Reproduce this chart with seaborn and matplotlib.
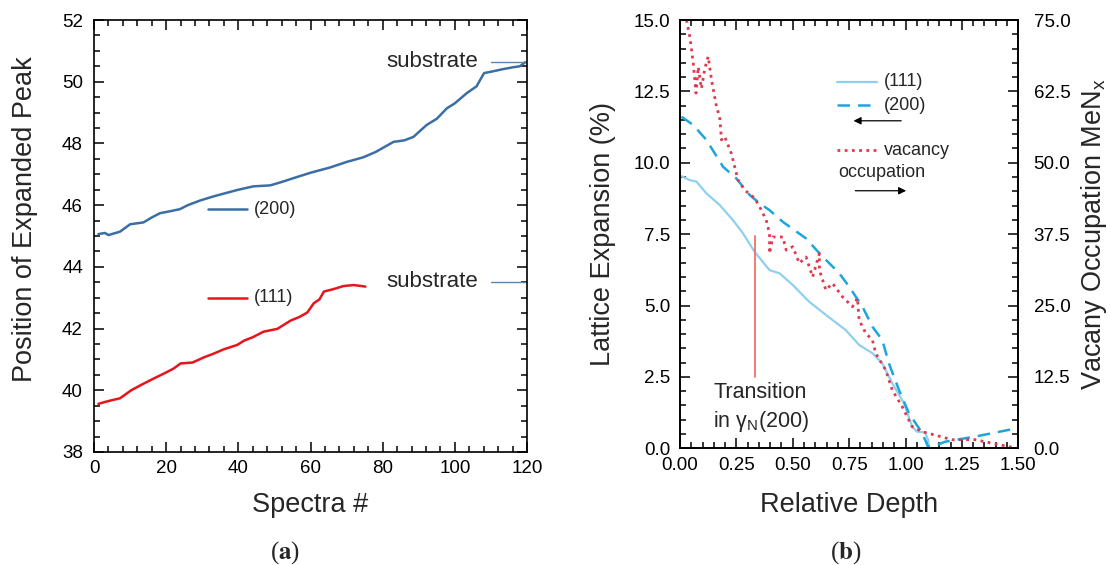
import numpy as np
import pandas as pd
import matplotlib
matplotlib.use("Agg")
import matplotlib.pyplot as plt
from matplotlib.ticker import MultipleLocator, FormatStrFormatter
import seaborn as sns

# ---------------- data: panel (a) ----------------
spec200_x = [1.2, 3, 4, 7.2, 10, 13.7, 16, 18.3, 21, 23.8, 26, 29.4, 33, 36.8, 40, 44.2, 48.8, 52, 56.2,
             60, 65.4, 70, 74.6, 78, 83, 86, 88.5, 92.2, 95, 97.8, 100, 103.3, 106, 108.1, 110.7, 113,
             116.2, 118, 119.5]
pos200 = [45.06, 45.1, 45.03, 45.14, 45.38, 45.44, 45.6, 45.74, 45.8, 45.87, 46.0, 46.15, 46.28, 46.40,
          46.5, 46.61, 46.64, 46.75, 46.91, 47.05, 47.22, 47.4, 47.55, 47.72, 48.05, 48.1, 48.21, 48.60,
          48.8, 49.14, 49.3, 49.63, 49.85, 50.28, 50.34, 50.4, 50.47, 50.5, 50.63]
spec111_x = [1.2, 3, 5, 7.2, 10.3, 13, 16, 19.5, 22, 24, 27.3, 30.5, 33, 36, 39.7, 41.6, 44, 47, 50.8,
             54.5, 57, 59.1, 60.9, 62.5, 63.7, 66.4, 69.2, 72, 74, 75.2]
pos111 = [39.56, 39.62, 39.68, 39.74, 40.0, 40.17, 40.35, 40.55, 40.7, 40.87, 40.9, 41.07, 41.18, 41.33,
          41.47, 41.61, 41.72, 41.90, 41.99, 42.26, 42.38, 42.52, 42.82, 42.95, 43.20, 43.28, 43.38,
          43.41, 43.38, 43.36]
substrate_a = [50.65, 43.52]

# ---------------- data: panel (b) ----------------
d111_x = [0.007, 0.044, 0.073, 0.117, 0.176, 0.235, 0.279, 0.331, 0.397, 0.441, 0.5, 0.573, 0.647,
          0.735, 0.794, 0.853, 0.897, 0.941, 0.993, 1.029, 1.051, 1.087, 1.10, 1.105]
exp111 = [9.53, 9.39, 9.34, 8.93, 8.52, 7.99, 7.53, 6.88, 6.24, 6.13, 5.72, 5.13, 4.67,
          4.14, 3.62, 3.33, 2.98, 2.28, 1.58, 0.76, 0.58, 0.56, 0.29, 0.02]
d200_x = [0.007, 0.059, 0.117, 0.191, 0.25, 0.309, 0.353, 0.397, 0.456, 0.507, 0.559, 0.618, 0.662,
          0.706, 0.750, 0.809, 0.853, 0.897, 0.926, 0.971, 1.015, 1.074, 1.10, 1.15, 1.176, 1.309, 1.493]
exp200 = [11.61, 11.32, 10.80, 9.86, 9.45, 8.87, 8.58, 8.34, 7.93, 7.64, 7.35, 6.83, 6.48,
          6.13, 5.66, 4.96, 4.26, 3.79, 2.98, 2.04, 1.23, 0.53, 0.05, 0.15, 0.23, 0.41, 0.70]
vac_x = [0.029, 0.044, 0.059, 0.071, 0.081, 0.095, 0.110, 0.125, 0.140, 0.162, 0.176, 0.184, 0.198,
         0.228, 0.257, 0.287, 0.331, 0.353, 0.382, 0.397, 0.397, 0.412, 0.456, 0.471, 0.5, 0.529,
         0.559, 0.588, 0.618, 0.618, 0.647, 0.676, 0.721, 0.765, 0.787, 0.794, 0.824, 0.853, 0.868,
         0.912, 0.941, 0.985, 1.029, 1.074, 1.132, 1.206, 1.309, 1.382, 1.493]
vac_occ = [75.0, 72.0, 67.4, 62.2, 66.8, 63.0, 66.5, 68.6, 64.5, 59.8, 58.0, 54.0, 54.6,
           51.6, 47.0, 45.2, 43.8, 42.3, 40.0, 37.6, 34.1, 37.0, 37.0, 34.7, 35.3, 32.4,
           33.5, 30.0, 34.1, 31.2, 27.7, 28.9, 26.5, 24.8, 26.3, 22.5, 20.1, 19.0, 16.6,
           13.7, 10.2, 7.3, 3.8, 2.9, 2.3, 1.5, 1.5, 0.9, 0.0]
transition_x = 0.331

# ---------------- style ----------------
sns.set_style("ticks")
plt.rcParams['font.family'] = ['Liberation Sans', 'DejaVu Sans']
plt.rcParams['mathtext.fontset'] = 'custom'
plt.rcParams['mathtext.rm'] = 'Liberation Sans'
plt.rcParams['mathtext.it'] = 'Liberation Sans:italic'
plt.rcParams['mathtext.bf'] = 'Liberation Sans:bold'

C200 = "#3a6ea5"
C111 = "#e8141c"
CB111 = "#8fd0f0"
CB200 = "#1ca6dd"
CVAC = "#e0394e"
DASH = (0, (5, 3.2))
DOT = (0, (1, 1.6))

fig = plt.figure(figsize=(11.1, 5.65), dpi=100)
axA = fig.add_axes([0.0847, 0.2, 0.3901, 0.7646])
axB = fig.add_axes([0.6126, 0.2066, 0.3048, 0.758])
axB2 = axB.twinx()

def style_ticks(ax, right=True, top=True, ypad=8):
    ax.tick_params(which='both', direction='in', top=top, right=right, labelsize=13.5,
                   colors='black', width=1.1)
    ax.tick_params(which='major', length=7)
    ax.tick_params(which='minor', length=4)
    ax.tick_params(axis='x', pad=6)
    ax.tick_params(axis='y', pad=ypad)
    for s in ax.spines.values():
        s.set_linewidth(1.2)
        s.set_color('black')

LABEL_FS = 19.5

# ---------------- panel (a) ----------------
dfA2 = pd.DataFrame({"x": spec200_x, "y": pos200})
dfA1 = pd.DataFrame({"x": spec111_x, "y": pos111})
sns.lineplot(data=dfA2, x="x", y="y", ax=axA, color=C200, lw=1.8, sort=False, estimator=None)
sns.lineplot(data=dfA1, x="x", y="y", ax=axA, color=C111, lw=1.8, sort=False, estimator=None)
axA.set_xlim(0, 120)
axA.set_ylim(38, 52)
axA.xaxis.set_major_locator(MultipleLocator(20))
axA.xaxis.set_minor_locator(MultipleLocator(4))
axA.yaxis.set_major_locator(MultipleLocator(2))
axA.yaxis.set_minor_locator(MultipleLocator(0.5))
style_ticks(axA, ypad=8)
axA.set_xlabel("Spectra #", fontsize=LABEL_FS)
axA.set_ylabel("Position of Expanded Peak", fontsize=LABEL_FS)
axA.xaxis.set_label_coords(0.5, -0.093)
axA.yaxis.set_label_coords(-0.13, 0.54)
# substrate markers
for yv in substrate_a:
    axA.plot([110, 120], [yv, yv], color="#5b87ad", lw=1.0)
    axA.text(106.5, yv, "substrate", fontsize=16, ha='right', va='center')
# in-plot legend
axA.plot([31.5, 42.3], [45.86, 45.86], color=C200, lw=1.8)
axA.text(44.2, 45.86, "(200)", fontsize=13, va='center')
axA.plot([31.5, 42.3], [43.0, 43.0], color=C111, lw=1.8)
axA.text(44.2, 43.0, "(111)", fontsize=13, va='center')

# ---------------- panel (b) ----------------
dfB1 = pd.DataFrame({"x": d111_x, "y": exp111})
dfB2 = pd.DataFrame({"x": d200_x, "y": exp200})
dfV = pd.DataFrame({"x": vac_x, "y": vac_occ})
sns.lineplot(data=dfB1, x="x", y="y", ax=axB, color=CB111, lw=1.6, sort=False, estimator=None)
sns.lineplot(data=dfB2, x="x", y="y", ax=axB, color=CB200, lw=1.8, sort=False, estimator=None,
             linestyle=DASH)
sns.lineplot(data=dfV, x="x", y="y", ax=axB2, color=CVAC, lw=2.0, sort=False, estimator=None,
             linestyle=DOT)
axB.set_xlim(0, 1.5)
axB.set_ylim(0, 15)
axB2.set_ylim(0, 75)
axB.xaxis.set_major_locator(MultipleLocator(0.25))
axB.xaxis.set_minor_locator(MultipleLocator(0.05))
axB.yaxis.set_major_locator(MultipleLocator(2.5))
axB.yaxis.set_minor_locator(MultipleLocator(0.5))
axB2.yaxis.set_major_locator(MultipleLocator(12.5))
axB2.yaxis.set_minor_locator(MultipleLocator(2.5))
axB.xaxis.set_major_formatter(FormatStrFormatter('%.2f'))
axB.yaxis.set_major_formatter(FormatStrFormatter('%.1f'))
axB2.yaxis.set_major_formatter(FormatStrFormatter('%.1f'))
style_ticks(axB, right=False, top=True, ypad=7)
style_ticks(axB2, right=True, top=False, ypad=11)
axB.set_xlabel("Relative Depth", fontsize=LABEL_FS)
axB.set_ylabel("Lattice Expansion (%)", fontsize=LABEL_FS)
axB2.set_ylabel("Vacany Occupation MeN$_{\\rm x}$", fontsize=LABEL_FS)
axB.xaxis.set_label_coords(0.5, -0.102)
axB.yaxis.set_label_coords(-0.19, 0.5)
axB2.yaxis.set_label_coords(1.178, 0.5)

# transition marker
axB.plot([transition_x, transition_x], [2.5, 7.45], color="#f07070", lw=1.3)
axB.text(0.147, 1.97, "Transition", fontsize=15.5, va='center')
axB.text(0.147, 0.95, "in \u03b3$_{\\rm N}$(200)", fontsize=15.5, va='center')

# legend-like annotations
axB.plot([0.698, 0.875], [12.84, 12.84], color=CB111, lw=1.6)
axB.text(0.904, 12.84, "(111)", fontsize=13, va='center')
axB.plot([0.698, 0.875], [12.02, 12.02], color=CB200, lw=1.8, linestyle=DASH)
axB.text(0.904, 12.02, "(200)", fontsize=13, va='center')
axB.annotate("", xy=(0.757, 11.47), xytext=(0.993, 11.47),
             arrowprops=dict(arrowstyle='-|>', color='black', lw=0.9, mutation_scale=11))
axB.plot([0.698, 0.882], [10.44, 10.44], color=CVAC, lw=2.0, linestyle=DOT)
axB.text(0.904, 10.44, "vacancy", fontsize=13, va='center')
axB.text(0.70, 9.67, "occupation", fontsize=13, va='center')
axB.annotate("", xy=(1.015, 9.02), xytext=(0.765, 9.02),
             arrowprops=dict(arrowstyle='-|>', color='black', lw=0.9, mutation_scale=11))

# panel captions
fig.text(0.257, 0.012, "($\\mathbf{a}$)", fontsize=18, ha='center', family='Liberation Serif',
         math_fontfamily='stix')
fig.text(0.762, 0.012, "($\\mathbf{b}$)", fontsize=18, ha='center', family='Liberation Serif',
         math_fontfamily='stix')

fig.savefig("out.png", dpi=100)
